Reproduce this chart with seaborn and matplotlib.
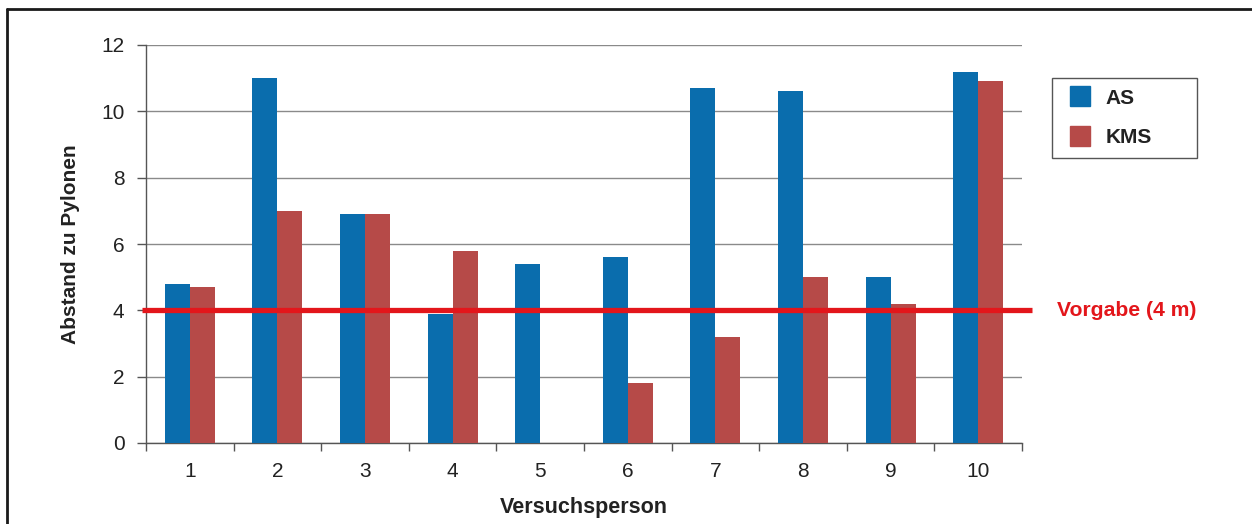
import matplotlib
matplotlib.use("Agg")
import matplotlib.pyplot as plt
import matplotlib.lines as mlines
import matplotlib.patches as mpatches
import seaborn as sns
import pandas as pd

# Daten
personen = ["1", "2", "3", "4", "5", "6", "7", "8", "9", "10"]
werte_as = [4.8, 11.0, 6.9, 3.9, 5.4, 5.6, 10.7, 10.6, 5.0, 11.2]
werte_kms = [4.7, 7.0, 6.9, 5.8, 0.0, 1.8, 3.2, 5.0, 4.2, 10.9]
serien = ["AS", "KMS"]
vorgabe = 4.0
vorgabe_text = "Vorgabe (4 m)"
y_ticks = [0, 2, 4, 6, 8, 10, 12]

farben = {"AS": "#0a6dad", "KMS": "#b64a48"}
rot = "#e3161b"
textfarbe = "#222222"

df = pd.DataFrame({
    "Versuchsperson": personen * 2,
    "Abstand": werte_as + werte_kms,
    "Serie": [serien[0]] * len(personen) + [serien[1]] * len(personen),
})

sns.set_style("white")
plt.rcParams["font.family"] = ["Liberation Sans", "DejaVu Sans"]

W, H = 1252, 524
fig = plt.figure(figsize=(W / 100, H / 100), dpi=100)
ax = fig.add_axes([146 / W, 1 - 443 / H, 876 / W, 398 / H])

sns.barplot(data=df, x="Versuchsperson", y="Abstand", hue="Serie",
            palette=farben, width=0.57, gap=0, saturation=1,
            linewidth=0, ax=ax, legend=False, zorder=3)

ax.set_xlim(-0.5, len(personen) - 0.5)
ax.set_ylim(0, 12)
ax.set_yticks(y_ticks)
ax.yaxis.grid(True, color="#8a8a8a", linewidth=1.0, zorder=0)
ax.xaxis.grid(False)
ax.set_axisbelow(True)

for side in ["top", "right"]:
    ax.spines[side].set_visible(False)
for side in ["left", "bottom"]:
    ax.spines[side].set_color("#555555")
    ax.spines[side].set_linewidth(1.0)

# Teilstriche an den Kategoriegrenzen
ax.set_xticks([i - 0.5 for i in range(len(personen) + 1)], minor=True)
ax.tick_params(axis="x", which="minor", length=5.8, width=1.0, color="#555555",
               direction="out", bottom=True)
ax.tick_params(axis="x", which="major", length=0, pad=14, labelsize=15,
               labelcolor=textfarbe)
ax.tick_params(axis="y", length=6.5, width=1.0, color="#555555", direction="out",
               left=True, pad=9, labelsize=15, labelcolor=textfarbe)

ax.set_xlabel("Versuchsperson", fontsize=15.5, fontweight="bold", color=textfarbe,
              labelpad=11)
ax.set_ylabel("Abstand zu Pylonen", fontsize=15, fontweight="bold", color=textfarbe,
              labelpad=15)

# Vorgabelinie
ax.plot([-0.55, len(personen) - 0.39], [vorgabe, vorgabe], color=rot, linewidth=3.8,
        solid_capstyle="butt", clip_on=False, zorder=5)
fig.text(1057 / W, 1 - 310 / H, vorgabe_text, color=rot, fontsize=15.2,
         fontweight="bold", va="center", ha="left")

# Legende mit Rahmen
fig.add_artist(mpatches.Rectangle((1052 / W, 1 - 158 / H), 145 / W, 80 / H,
                                  transform=fig.transFigure, facecolor="white",
                                  edgecolor="#555555", linewidth=1.0))
handles = [mlines.Line2D([], [], marker="s", linestyle="none", markersize=14,
                         markerfacecolor=farben[s], markeredgecolor=farben[s])
           for s in serien]
leg = fig.legend(handles, serien, loc="center left",
                 bbox_to_anchor=(1070 / W, 1 - 118 / H),
                 frameon=False, prop={"weight": "bold", "size": 15},
                 handletextpad=0.72, labelspacing=1.0, borderpad=0,
                 borderaxespad=0, handlelength=1.0)
for t in leg.get_texts():
    t.set_color(textfarbe)

# Rahmen oben und links
fig.add_artist(mlines.Line2D([7 / W, 1.0], [1 - 9 / H, 1 - 9 / H], color="#1a1a1a",
                             linewidth=2, transform=fig.transFigure))
fig.add_artist(mlines.Line2D([7 / W, 7 / W], [0, 1 - 9 / H], color="#1a1a1a",
                             linewidth=2, transform=fig.transFigure))

fig.savefig("out.png", dpi=100)
